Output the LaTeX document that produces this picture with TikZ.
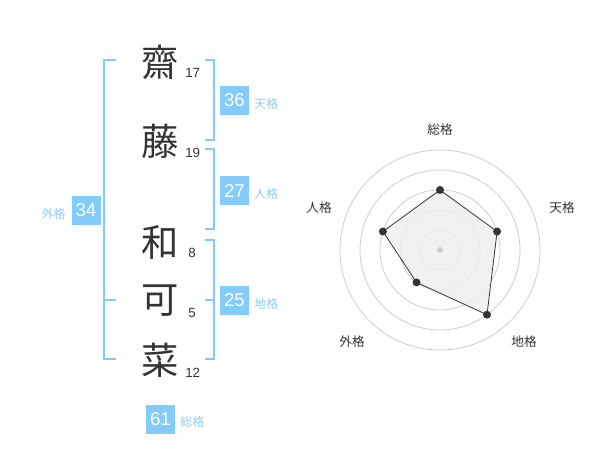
\documentclass[tikz,border=0pt]{standalone}
\usepackage{fontspec}
\setmainfont{Liberation Sans}
\newfontfamily\jp{Noto Sans CJK JP}
\definecolor{boxblue}{HTML}{82CBFA}
\definecolor{lblblue}{HTML}{8ECDF5}
\definecolor{brblue}{HTML}{82C8F8}
\definecolor{ink}{HTML}{333333}
\definecolor{ring}{HTML}{CCCCCC}
\definecolor{area}{HTML}{EEEEEE}
\tikzset{
  big/.style={font=\jp\fontsize{28pt}{30pt}\selectfont, text=ink, inner sep=0pt},
  strk/.style={font=\fontsize{10pt}{11pt}\selectfont, text=ink, anchor=west, inner sep=0pt},
  numbox/.style={fill=boxblue, text=white, minimum width=21.75pt, minimum height=21.75pt, inner sep=0pt, font=\fontsize{14pt}{15pt}\selectfont},
  lbl/.style={font=\jp\fontsize{9pt}{10pt}\selectfont, text=lblblue, inner sep=0pt},
  brk/.style={draw=brblue, line width=1.5pt},
  rlbl/.style={font=\jp\fontsize{9.5pt}{10pt}\selectfont, text=ink, inner sep=0pt},
  dot/.style={circle, fill=ink, inner sep=0pt, minimum size=6pt},
}
\begin{document}
\begin{tikzpicture}[x=0.75pt,y=-0.75pt]
\useasboundingbox (0,0) rectangle (600,470);
% characters
\node[big] (c1) at (160,62) {齋};
\node[big] (c2) at (160,141) {藤};
\node[big] (c3) at (160,242) {和};
\node[big] (c4) at (160,301) {可};
\node[big] (c5) at (160,360) {菜};
\node[strk] (n1) at (185,73) {17};
\node[strk] (n2) at (185,153) {19};
\node[strk] (n3) at (188,253) {8};
\node[strk] (n4) at (188,313) {5};
\node[strk] (n5) at (185,373) {12};
% brackets
\draw[brk] (116,60) -- (104,60) -- (104,359) -- (116,359);
\draw[brk] (104,300) -- (116,300);
\draw[brk] (205,60) -- (214,60) -- (214,140) -- (205,140);
\draw[brk] (205,149) -- (214,149) -- (214,229) -- (205,229);
\draw[brk] (205,240) -- (214,240) -- (214,359) -- (205,359);
\draw[brk] (205,300) -- (214,300);
% boxes
\node[numbox] (b1) at (234.5,100.5) {36};
\node[lbl, anchor=west] (l1) at (254,104) {天格};
\node[numbox] (b2) at (234.5,190.5) {27};
\node[lbl, anchor=west] (l2) at (254,194) {人格};
\node[numbox] (b3) at (234.5,300.5) {25};
\node[lbl, anchor=west] (l3) at (254,304) {地格};
\node[numbox] (b4) at (86,210.5) {34};
\node[lbl, anchor=east] (l4) at (66,214) {外格};
\node[numbox] (b5) at (160.5,419) {61};
\node[lbl, anchor=west] (l5) at (180,422) {総格};
% radar
\coordinate (o) at (440,250);
\foreach \r in {20,40,60,80,100} \draw[ring, line width=0.6pt] (o) circle[radius=\r];
\coordinate (p1) at (440,190);
\coordinate (p2) at (497.1,231.5);
\coordinate (p3) at (487,314.7);
\coordinate (p4) at (416.5,282.4);
\coordinate (p5) at (382.9,231.5);
\fill[area, opacity=0.8] (p1) -- (p2) -- (p3) -- (p4) -- (p5) -- cycle;
\draw[ink, line width=0.6pt] (p1) -- (p2) -- (p3) -- (p4) -- (p5) -- cycle;
\fill[ring] (o) circle[radius=3];
\foreach \p in {p1,p2,p3,p4,p5} \node[dot] at (\p) {};
\node[rlbl] (r1) at (440,130) {総格};
\node[rlbl] (r2) at (562,208) {天格};
\node[rlbl] (r3) at (524,342) {地格};
\node[rlbl] (r4) at (352,342) {外格};
\node[rlbl] (r5) at (319,208) {人格};
\end{tikzpicture}
\end{document}
